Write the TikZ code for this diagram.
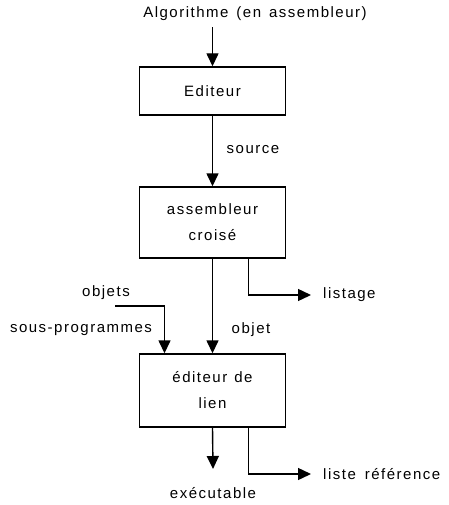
\documentclass[tikz,border=0pt]{standalone}
\usepackage{fontspec}
\setmainfont{Liberation Sans}[LetterSpace=10]
\usetikzlibrary{arrows.meta}
\begin{document}
\begin{tikzpicture}[x=1pt,y=-1pt,
  box/.style={draw,line width=1.4pt,minimum width=146pt,align=center,inner sep=0pt,font=\fontsize{15}{26}\selectfont},
  lbl/.style={inner sep=0pt,font=\fontsize{15}{17}\selectfont},
  flow/.style={-{Triangle[length=13pt,width=12pt]},line width=1.4pt}]
  \useasboundingbox (0,0) rectangle (448,505);
  % titre et boites
  \node[lbl] (algo) at (255,14) {Algorithme\hspace{8pt}(en\hspace{8pt}assembleur)};
  \node[box,minimum height=48pt] (edit) at (212.5,91) {Editeur};
  \node[box,minimum height=71pt] (asm) at (212.5,222.5) {assembleur\\croisé};
  \node[box,minimum height=73pt] (lien) at (212.5,390.5) {éditeur\hspace{7pt}de\\lien};
  % textes
  \node[lbl] (source) at (253,150) {source};
  \node[lbl,anchor=west] (listage) at (323,295) {listage};
  \node[lbl] (objets) at (106,293) {objets};
  \node[lbl] (ssprog) at (81,330) {sous-programmes};
  \node[lbl] (objet) at (251,330) {objet};
  \node[lbl,anchor=west] (liste) at (323,474) {liste\hspace{9pt}référence};
  \node[lbl] (exec) at (213,493) {exécutable};
  \coordinate (objin) at (115,306);
  \coordinate (exectip) at (213,469);
  % connexions
  \draw[flow] (algo.south -| edit.north) ++(0,6) -- (edit.north);
  \draw[flow] (edit.south) -- (asm.north);
  \draw[flow] (asm.south) -- (lien.north);
  \draw[flow,shorten >=12pt] ([xshift=36pt]asm.south) |- (listage.west);
  \draw[flow] (objin) -| ([xshift=-48pt]lien.north);
  \draw[flow] (lien.south) -- (exectip);
  \draw[flow,shorten >=12pt] ([xshift=36pt]lien.south) |- (liste.west);
\end{tikzpicture}
\end{document}
